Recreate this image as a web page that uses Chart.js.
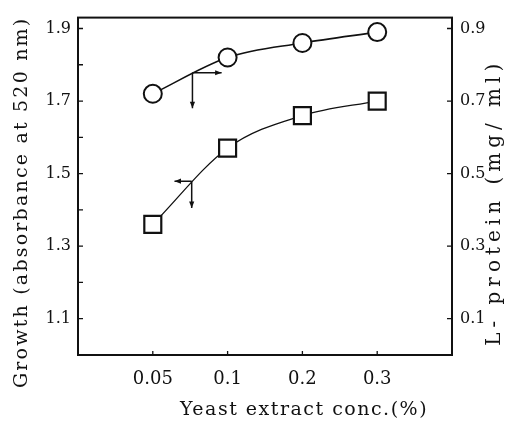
<!DOCTYPE html>
<html><head><meta charset="utf-8">
<script src="https://cdn.jsdelivr.net/npm/chart.js@4.4.0/dist/chart.umd.min.js"></script>
<style>html,body{margin:0;padding:0;background:#fff}#wrap{width:516px;height:422px;position:relative}</style>
</head><body><div id="wrap"><canvas id="c" width="516" height="422"></canvas></div>
<script>
// ---- data ----
const xPositions = [1, 2, 3, 4];
const xTickLabels = ['0.05', '0.1', '0.2', '0.3'];
const growth = [1.36, 1.57, 1.66, 1.70];      // squares, left axis
const protein = [0.72, 0.82, 0.86, 0.89];     // circles, right axis
const leftTicks = [1.1, 1.2, 1.3, 1.4, 1.5, 1.6, 1.7, 1.8, 1.9];
const leftTickLabels = ['1.1', '1.3', '1.5', '1.7', '1.9'];
const rightTicks = [0.1, 0.3, 0.5, 0.7, 0.9];
const rightTickLabels = ['0.1', '0.3', '0.5', '0.7', '0.9'];
const xTitle = 'Yeast extract conc.(%)';
const leftTitle = 'Growth (absorbance at 520 nm)';
const rightTitle = 'L- protein (mg/ ml)';
// axis-indicator arrows (data coordinates)
const proteinArrow = { x: 1.53, y: 0.778, xTo: 1.92, yTo: 0.68 };
const growthArrow = { x: 1.52, y: 1.479, xTo: 1.29, yTo: 1.405 };

const INK = '#111';
const SERIF = '"DejaVu Serif", "Liberation Serif", serif';

function arrowHead(ctx, x1, y1, x2, y2, size) {
  const a = Math.atan2(y2 - y1, x2 - x1);
  ctx.beginPath();
  ctx.moveTo(x2, y2);
  ctx.lineTo(x2 - size * Math.cos(a - 0.38), y2 - size * Math.sin(a - 0.38));
  ctx.lineTo(x2 - size * Math.cos(a + 0.38), y2 - size * Math.sin(a + 0.38));
  ctx.closePath();
  ctx.fill();
}

const framePlugin = {
  id: 'frame',
  beforeDatasetsDraw(chart) {
    const { ctx, chartArea: a, scales } = chart;
    ctx.save();
    ctx.strokeStyle = INK;
    ctx.lineWidth = 2;
    ctx.strokeRect(a.left, a.top, a.right - a.left, a.bottom - a.top);
    ctx.lineWidth = 1.3;
    ctx.beginPath();
    leftTicks.forEach(v => { const y = scales.y.getPixelForValue(v); ctx.moveTo(a.left, y); ctx.lineTo(a.left + 5, y); });
    rightTicks.forEach(v => { const y = scales.yR.getPixelForValue(v); ctx.moveTo(a.right - 5, y); ctx.lineTo(a.right, y); });
    xPositions.forEach(v => { const x = scales.x.getPixelForValue(v); ctx.moveTo(x, a.bottom); ctx.lineTo(x, a.bottom - 4); });
    ctx.stroke();
    // arrows
    ctx.fillStyle = INK;
    ctx.lineWidth = 1.5;
    [[proteinArrow, 'yR'], [growthArrow, 'y']].forEach(([ar, ax]) => {
      const x0 = scales.x.getPixelForValue(ar.x), y0 = scales[ax].getPixelForValue(ar.y);
      const x1 = scales.x.getPixelForValue(ar.xTo), y1 = scales[ax].getPixelForValue(ar.yTo);
      ctx.beginPath();
      ctx.moveTo(x0, y0); ctx.lineTo(x1, y0);
      ctx.moveTo(x0, y0); ctx.lineTo(x0, y1);
      ctx.stroke();
      arrowHead(ctx, x0, y0, x1, y0, 7);
      arrowHead(ctx, x0, y0, x0, y1, 7);
    });
    ctx.restore();
  },
  afterDraw(chart) {
    const { ctx, chartArea: a } = chart;
    const cy = (a.top + a.bottom) / 2;
    ctx.save();
    ctx.fillStyle = INK;
    ctx.font = '19px ' + SERIF;
    ctx.textAlign = 'center';
    ctx.textBaseline = 'middle';
    ctx.letterSpacing = '1.5px';
    ctx.fillText(xTitle, (a.left + a.right) / 2 + 39, a.bottom + 55);
    ctx.save();
    ctx.translate(a.left - 56, cy + 16);
    ctx.rotate(-Math.PI / 2);
    ctx.letterSpacing = '2.2px';
    ctx.fillText(leftTitle, 0, 0);
    ctx.restore();
    ctx.save();
    ctx.font = '20px ' + SERIF;
    ctx.translate(a.right + 43, cy + 16);
    ctx.rotate(-Math.PI / 2);
    ctx.letterSpacing = '5px';
    ctx.fillText(rightTitle, 0, 0);
    ctx.restore();
    ctx.restore();
  }
};

const label = (vals, labels) => v => {
  const s = Number(v).toFixed(labels[0].split('.')[1].length);
  return labels.includes(s) ? s : '';
};

new Chart(document.getElementById('c'), {
  type: 'line',
  data: {
    datasets: [
      {
        label: 'L-protein',
        data: xPositions.map((x, i) => ({ x, y: protein[i] })),
        yAxisID: 'yR',
        pointStyle: 'circle', pointRadius: 9,
        pointBackgroundColor: '#fff', pointBorderColor: INK, pointBorderWidth: 2,
        borderColor: INK, borderWidth: 1.6, cubicInterpolationMode: 'monotone', fill: false
      },
      {
        label: 'Growth',
        data: xPositions.map((x, i) => ({ x, y: growth[i] })),
        yAxisID: 'y',
        pointStyle: 'rect', pointRadius: 12,
        pointBackgroundColor: '#fff', pointBorderColor: INK, pointBorderWidth: 2.2,
        borderColor: INK, borderWidth: 1.3, cubicInterpolationMode: 'monotone', fill: false
      }
    ]
  },
  options: {
    responsive: false, animation: false, devicePixelRatio: 1,
    layout: { padding: { top: 13, left: 0, right: 0, bottom: 0 } },
    plugins: { legend: { display: false }, tooltip: { enabled: false } },
    scales: {
      x: {
        type: 'linear', min: 0, max: 5,
        afterBuildTicks: s => { s.ticks = xPositions.map(v => ({ value: v })); },
        afterFit: s => { s.height = 67; },
        grid: { display: false, drawTicks: false },
        border: { display: false },
        ticks: { padding: 14, color: INK, font: { family: SERIF, size: 18 },
          callback: v => xTickLabels[xPositions.indexOf(v)] ?? '' , maxRotation: 0, autoSkip: false }
      },
      y: {
        position: 'left', min: 1.0, max: 1.93,
        afterBuildTicks: s => { s.ticks = leftTicks.map(v => ({ value: v })); },
        afterFit: s => { s.width = 78; },
        grid: { display: false, drawTicks: false },
        border: { display: false },
        ticks: { padding: 7, color: INK, font: { family: SERIF, size: 16 }, autoSkip: false,
          callback: label(leftTicks, leftTickLabels) }
      },
      yR: {
        position: 'right', min: 0.0, max: 0.93,
        afterBuildTicks: s => { s.ticks = rightTicks.map(v => ({ value: v })); },
        afterFit: s => { s.width = 64; },
        grid: { display: false, drawTicks: false },
        border: { display: false },
        ticks: { padding: 8, color: INK, font: { family: SERIF, size: 16 }, autoSkip: false,
          callback: label(rightTicks, rightTickLabels) }
      }
    }
  },
  plugins: [framePlugin]
});
</script>
</body></html>
